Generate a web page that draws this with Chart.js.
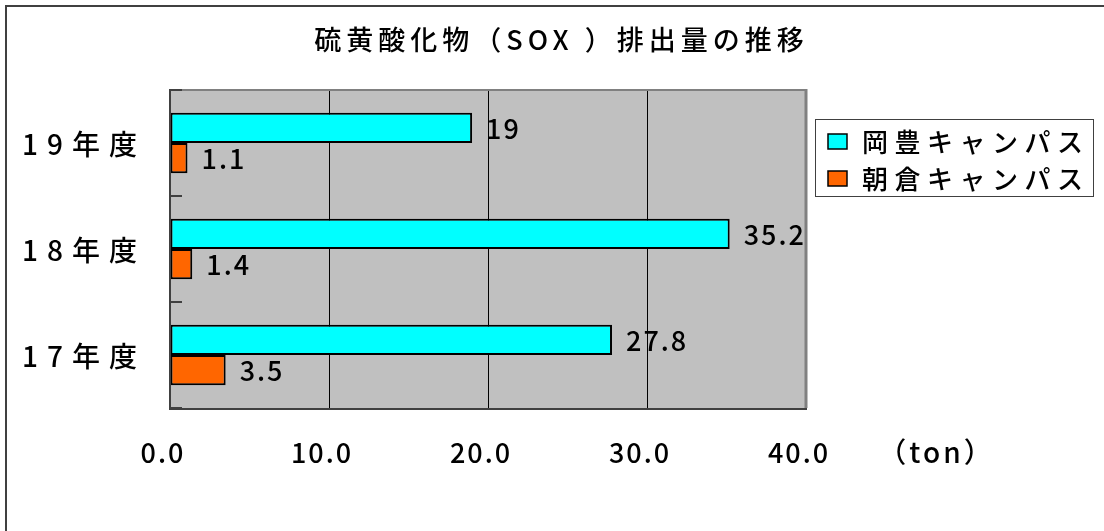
<!DOCTYPE html>
<html>
<head>
<meta charset="utf-8">
<script src="https://cdn.jsdelivr.net/npm/chart.js@4"></script>
<style>
  body { margin: 0; background: #fff; }
  #frame { position: absolute; left: 5px; top: 5px; width: 1200px; height: 600px;
           border-left: 2px solid #404040; border-top: 2px solid #404040; }
  #wrap { position: absolute; left: 0; top: 0; width: 1104px; height: 531px; }
</style>
</head>
<body>
<div id="frame"></div>
<div id="wrap"><canvas id="canvas" width="1104" height="531"></canvas></div>
<script>
var years = ['19年度', '18年度', '17年度'];
var okoValues = [19, 35.2, 27.8];
var asakuraValues = [1.1, 1.4, 3.5];
var seriesNames = ['岡豊キャンパス', '朝倉キャンパス'];
var seriesColors = ['#00ffff', '#ff6600'];
var xTicks = [0, 10, 20, 30, 40];
var unitLabel = '（ton）';
var titleText = '硫黄酸化物（SOX ）排出量の推移';

var FONT = '"Noto Sans CJK JP", "Noto Sans", sans-serif';

function spacedText(c, text, x, y, size, spacing, align) {
  c.save();
  c.font = '500 ' + size + 'px ' + FONT;
  c.letterSpacing = spacing + 'px';
  c.fillStyle = '#000';
  c.textBaseline = 'middle';
  var w = c.measureText(text).width - spacing;
  if (align === 'center') x -= w / 2;
  else if (align === 'right') x -= w;
  c.textAlign = 'left';
  c.fillText(text, x, y);
  c.restore();
}

var plotDeco = {
  id: 'plotDeco',
  beforeDraw: function (chart) {
    var a = chart.chartArea, c = chart.ctx;
    c.save();
    c.fillStyle = '#c0c0c0';
    c.fillRect(a.left, a.top, a.right - a.left, a.bottom - a.top);
    c.restore();
    // spacing for the x tick labels drawn by the scale
    c.letterSpacing = '2px';
  },
  afterDatasetsDraw: function (chart) {
    var a = chart.chartArea, c = chart.ctx;
    var y = chart.scales.y;
    c.save();
    c.letterSpacing = '0px';
    c.lineCap = 'butt';
    // plot frame
    c.strokeStyle = '#808080';
    c.lineWidth = 2;
    c.beginPath(); c.moveTo(a.left, a.top); c.lineTo(a.right, a.top); c.stroke();
    c.lineWidth = 3;
    c.beginPath(); c.moveTo(a.right, a.top - 1); c.lineTo(a.right, a.bottom); c.stroke();
    c.strokeStyle = '#404040';
    c.lineWidth = 2;
    c.beginPath(); c.moveTo(a.left, a.top - 1); c.lineTo(a.left, a.bottom + 1); c.lineTo(a.right + 1, a.bottom + 1); c.stroke();
    // inward tick marks between categories
    for (var i = 0; i <= years.length; i++) {
      var py = Math.round(y.getPixelForValue(i - 0.5));
      c.beginPath(); c.moveTo(a.left, py); c.lineTo(a.left + 12, py); c.stroke();
    }
    c.restore();

    // value labels at bar ends
    chart.data.datasets.forEach(function (ds, di) {
      chart.getDatasetMeta(di).data.forEach(function (el, k) {
        spacedText(c, String(ds.data[k]), el.x + 14, el.y + 1, 27, 2, 'left');
      });
    });
  },
  afterDraw: function (chart) {
    var c = chart.ctx;
    var y = chart.scales.y;
    c.letterSpacing = '0px';

    spacedText(c, titleText, 559, 40, 27, 5, 'center');

    years.forEach(function (lab, i) {
      spacedText(c, lab, 137, y.getPixelForValue(i) + 1, 28, 9, 'right');
    });

    spacedText(c, unitLabel, 935, 452, 28, 3, 'center');

    // legend
    c.save();
    c.strokeStyle = '#404040';
    c.lineWidth = 1;
    c.strokeRect(815.5, 119.5, 278, 77);
    var rows = [142, 179];
    seriesNames.forEach(function (name, i) {
      c.fillStyle = seriesColors[i];
      c.fillRect(828, rows[i] - 8, 19, 15);
      c.strokeStyle = '#000';
      c.lineWidth = 1.5;
      c.strokeRect(828, rows[i] - 8, 19, 15);
      spacedText(c, name, 862, rows[i], 26, 6.5, 'left');
    });
    c.restore();
  }
};

var ctx = document.getElementById('canvas').getContext('2d');
var chart = new Chart(ctx, {
  type: 'bar',
  data: {
    labels: years,
    datasets: [{
      label: seriesNames[0],
      data: okoValues,
      backgroundColor: seriesColors[0],
      borderColor: '#000',
      borderWidth: 2,
      borderSkipped: false,
      categoryPercentage: 0.57,
      barPercentage: 1
    }, {
      label: seriesNames[1],
      data: asakuraValues,
      backgroundColor: seriesColors[1],
      borderColor: '#000',
      borderWidth: 2,
      borderSkipped: false,
      categoryPercentage: 0.57,
      barPercentage: 1
    }]
  },
  options: {
    indexAxis: 'y',
    responsive: false,
    animation: false,
    layout: { padding: { top: 90, right: 298, left: 0, bottom: 0 } },
    plugins: {
      legend: { display: false },
      title: { display: false },
      tooltip: { enabled: false }
    },
    scales: {
      x: {
        min: xTicks[0],
        max: xTicks[xTicks.length - 1],
        afterBuildTicks: function (scale) {
          scale.ticks = xTicks.map(function (v) { return { value: v }; });
        },
        ticks: {
          color: '#000',
          font: { family: FONT, size: 27, weight: '500' },
          padding: 29,
          labelOffset: -7,
          maxRotation: 0,
          callback: function (v) { return Number(v).toFixed(1); }
        },
        grid: {
          drawTicks: false,
          lineWidth: 1,
          color: function (c) {
            var v = c.tick ? c.tick.value : 0;
            return (v > xTicks[0] && v < xTicks[xTicks.length - 1]) ? '#000' : 'rgba(0,0,0,0)';
          }
        },
        border: { display: false },
        afterFit: function (scale) { scale.height = 123; }
      },
      y: {
        ticks: { display: false },
        grid: { display: false },
        border: { display: false },
        afterFit: function (scale) { scale.width = 170; }
      }
    }
  },
  plugins: [plotDeco]
});
</script>
</body>
</html>
